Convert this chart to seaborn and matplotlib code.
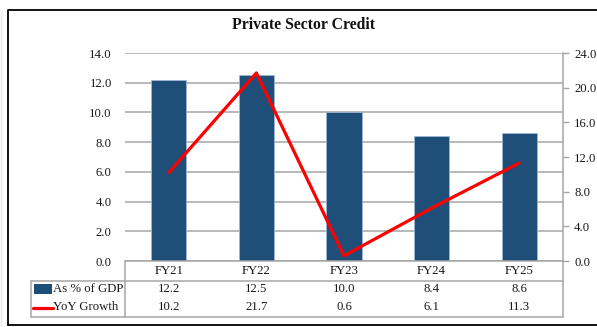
import numpy as np
import matplotlib
matplotlib.use("Agg")
import matplotlib.pyplot as plt
from matplotlib.lines import Line2D
from matplotlib.patches import Rectangle
from matplotlib.transforms import blended_transform_factory
import seaborn as sns

# Data
years = ["FY21", "FY22", "FY23", "FY24", "FY25"]
gdp_share = [12.2, 12.5, 10.0, 8.4, 8.6]
yoy_growth = [10.2, 21.7, 0.6, 6.1, 11.3]
left_ticks = [0, 2, 4, 6, 8, 10, 12, 14]
right_ticks = [0, 4, 8, 12, 16, 20, 24]
series_names = ["As % of GDP", "YoY Growth"]

BAR = "#1F4E79"
RED = "#FF0000"
GRID = "#A6A6A6"
TXT = "#1a1a1a"
FS = 9.2

sns.set_theme(style="white")
plt.rcParams["font.family"] = ["Liberation Serif", "DejaVu Serif"]

W, H = 597, 327
fig = plt.figure(figsize=(W / 100, H / 100), dpi=100)


def fx(px):
    return px / W


def fy(py):
    return 1 - py / H


L, R, T, B = 125, 563, 53, 261
ax = fig.add_axes([fx(L), fy(B), fx(R) - fx(L), fy(T) - fy(B)])

sns.barplot(x=years, y=gdp_share, ax=ax, color=BAR, saturation=1,
            width=0.4, edgecolor="#9DB8D6", linewidth=0.6, zorder=2)
ax.set_xlim(-0.5, len(years) - 0.5)
ax.set_ylim(0, 14)
ax.set_yticks(left_ticks)
ax.set_yticklabels([f"{v:.1f}" for v in left_ticks])
ax.yaxis.grid(True, color=GRID, linewidth=1.1)
ax.set_axisbelow(True)
for s in ["left", "right", "top", "bottom"]:
    ax.spines[s].set_visible(False)
ax.tick_params(axis="y", length=0, pad=9.5, labelsize=FS, labelcolor=TXT)
ax.tick_params(axis="x", length=0, pad=3, labelsize=FS, labelcolor=TXT)
ax.set_xlabel("")
ax.set_ylabel("")

ax2 = ax.twinx()
sns.lineplot(x=np.arange(len(years)), y=yoy_growth, ax=ax2, color=RED,
             linewidth=2.3, zorder=3)
ax2.set_ylim(0, 24)
ax2.set_xlim(-0.5, len(years) - 0.5)
ax2.set_yticks(right_ticks)
ax2.set_yticklabels([f"{v:.1f}" for v in right_ticks])
for s in ["left", "top", "bottom"]:
    ax2.spines[s].set_visible(False)
ax2.spines["right"].set_color(GRID)
ax2.spines["right"].set_linewidth(1.1)
ax2.tick_params(axis="y", length=4, width=1.0, color=GRID, pad=4,
                labelsize=FS, labelcolor=TXT)
ax2.set_ylabel("")
ax2.grid(False)

# Title
fig.text(fx(303.5), fy(25), "Private Sector Credit", ha="center", va="center",
         fontsize=11.3, fontweight="bold", color="#111111")

# Data table beneath the axes
def hline(y, x0, x1, color=GRID, lw=1.1):
    fig.add_artist(Line2D([fx(x0), fx(x1)], [fy(y), fy(y)], color=color,
                          linewidth=lw, transform=fig.transFigure))


def vline(x, y0, y1, color=GRID, lw=1.1):
    fig.add_artist(Line2D([fx(x), fx(x)], [fy(y0), fy(y1)], color=color,
                          linewidth=lw, transform=fig.transFigure))


hline(B, L, R)
hline(280.5, 31, R)
hline(316.5, 31, R)
vline(31, 280.5, 316.5)
vline(L, B, 316.5)
vline(R, B, 316.5)

row_y = [289.5, 307.5]
tr = blended_transform_factory(ax.transData, fig.transFigure)
for vals, yy in zip([gdp_share, yoy_growth], row_y):
    for i, v in enumerate(vals):
        fig.text(i, fy(yy), f"{v:.1f}", transform=tr, ha="center",
                 va="center", fontsize=FS, color=TXT)

# Series keys in the table's first column
fig.add_artist(Rectangle((fx(34), fy(294)), fx(52) - fx(34), fy(284) - fy(294),
                         facecolor=BAR, edgecolor="none",
                         transform=fig.transFigure))
fig.add_artist(Line2D([fx(33), fx(53)], [fy(307.5), fy(307.5)], color=RED,
                      linewidth=2.3, transform=fig.transFigure))
for name, yy in zip(series_names, row_y):
    fig.text(fx(53), fy(yy), name, ha="left", va="center", fontsize=FS,
             color=TXT)

# Chart frame
fig.add_artist(Line2D([fx(8), fx(8), fx(600)], [fy(325), fy(10), fy(10)],
                      color="black", linewidth=1.3, transform=fig.transFigure))
hline(325, 8, 600, color="black", lw=1.3)
vline(1, 12, 327, color="#E6E6E6", lw=1.0)

fig.savefig("out.png", dpi=100, facecolor="white")
